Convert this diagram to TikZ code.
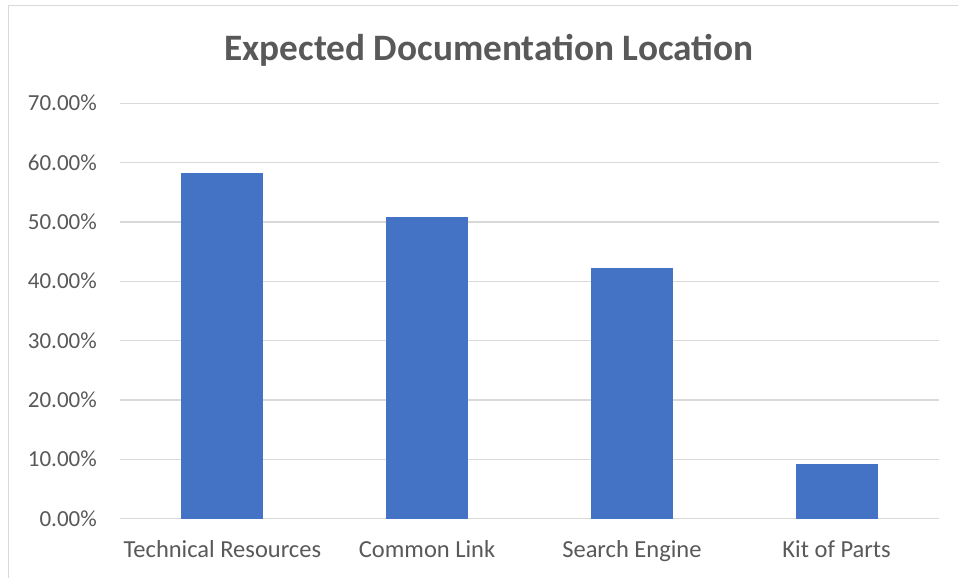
\documentclass[tikz,border=0pt]{standalone}
\usepackage{fontspec}
\setmainfont{Carlito}
\definecolor{barblue}{HTML}{4472C4}
\definecolor{gridgray}{HTML}{D9D9D9}
\definecolor{textgray}{HTML}{595959}
\definecolor{framegray}{HTML}{D9D9D9}
\begin{document}
\begin{tikzpicture}[x=1pt,y=-1pt,
  gridline/.style={draw=gridgray,line width=1.3pt},
  bar/.style={fill=barblue,draw=none},
  ticklabel/.style={text=textgray,font=\fontsize{23}{23}\selectfont,anchor=base east,inner sep=0pt},
  catlabel/.style={text=textgray,font=\fontsize{24.5}{24.5}\selectfont,anchor=base,inner sep=0pt},
  charttitle/.style={text=textgray,font=\fontsize{37.3}{37.3}\selectfont\bfseries,anchor=base,inner sep=0pt}]
\useasboundingbox (0,0) rectangle (958,578);
\fill[white] (0,0) rectangle (958,578);
% chart frame (left and top edges are in view)
\draw[framegray,line width=1.2pt] (8.5,600) -- (8.5,5.5) -- (980,5.5);
% title
\node[charttitle] (title) at (489,60) {Expected Documentation Location};
% value axis: gridlines and labels, 10% = 59.29 units
\foreach \v [count=\i from 0] in {0.00,10.00,20.00,30.00,40.00,50.00,60.00,70.00}{
  \pgfmathsetmacro{\yy}{518.5-59.29*\i}
  \draw[gridline] (120,\yy) -- (939,\yy);
  \node[ticklabel] (tick\i) at (97,\yy+7.5) {\v\%};
}
% bars
\foreach \c/\val/\name in {222.4/58.27/tr,427.1/50.85/cl,631.9/42.25/se,836.6/9.19/kp}{
  \pgfmathsetmacro{\top}{518.5-5.929*\val}
  \fill[bar] (\c-41,518.5) rectangle (\c+41,\top);
}
% category labels
\node[catlabel] (cat1) at (222.4,557) {Technical Resources};
\node[catlabel] (cat2) at (427.1,557) {Common Link};
\node[catlabel] (cat3) at (631.9,557) {Search Engine};
\node[catlabel] (cat4) at (836.6,557) {Kit of Parts};
\end{tikzpicture}
\end{document}
